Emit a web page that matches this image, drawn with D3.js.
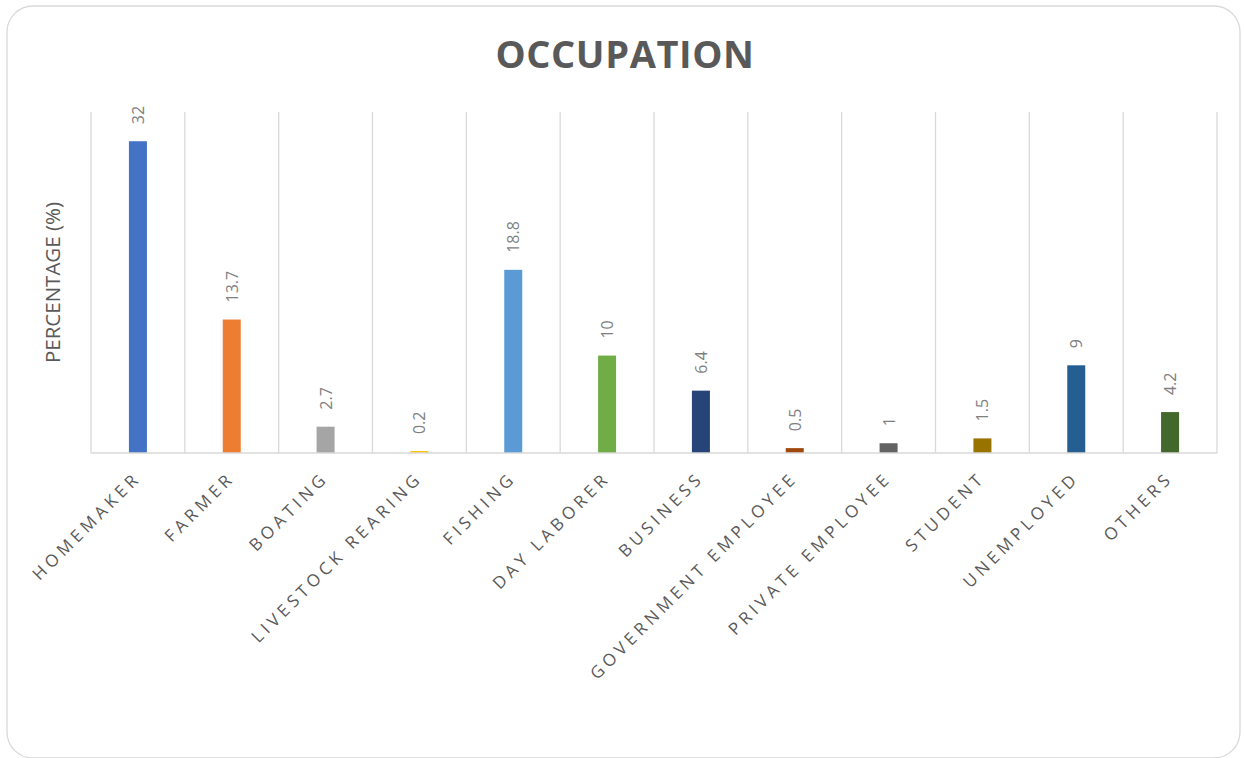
<!DOCTYPE html>
<html>
<head>
<meta charset="utf-8">
<script src="https://cdn.jsdelivr.net/npm/d3@7"></script>
<style>
body{margin:0;background:#fff;}
svg{display:block;font-family:"Open Sans",sans-serif;}
</style>
</head>
<body>
<svg id="chart" width="1244" height="758"></svg>
<script>
// data
var categories = ["HOMEMAKER","FARMER","BOATING","LIVESTOCK REARING","FISHING","DAY LABORER","BUSINESS","GOVERNMENT EMPLOYEE","PRIVATE EMPLOYEE","STUDENT","UNEMPLOYED","OTHERS"];
var values = [32, 13.7, 2.7, 0.2, 18.8, 10, 6.4, 0.5, 1, 1.5, 9, 4.2];
var colors = ["#4472C4","#ED7D31","#A5A5A5","#FFC000","#5B9BD5","#70AD47","#264478","#9E480E","#636363","#997300","#255E91","#43682B"];

var marge = {top:112,left:91,right:27,bottom:305};
var svg = d3.select("#chart");
var width = +svg.attr("width");
var height = +svg.attr("height");
var w = width - marge.left - marge.right;
var h = height - marge.top - marge.bottom;

// chart border
svg.append("rect")
   .attr("x",7).attr("y",6)
   .attr("width",1233).attr("height",752)
   .attr("rx",26).attr("ry",26)
   .attr("fill","#fff").attr("stroke","#d9d9d9").attr("stroke-width",1.3);

// title
svg.append("text")
   .attr("x",625).attr("y",68)
   .attr("text-anchor","middle")
   .attr("fill","#595959")
   .style("font-size","38px").style("font-weight","bold").style("letter-spacing","0.6px")
   .text("OCCUPATION");

var g = svg.append("g").attr("transform","translate("+marge.left+","+marge.top+")");

var x = d3.scaleBand().domain(categories).range([0,w]);
var y = d3.scaleLinear().domain([0,35]).range([h,0]);

// vertical gridlines between categories
var bounds = categories.map(function(c){return x(c);}).concat([w]);
g.selectAll(".grid").data(bounds).enter().append("line")
 .attr("class","grid")
 .attr("x1",function(d){return d;}).attr("x2",function(d){return d;})
 .attr("y1",0).attr("y2",h)
 .attr("stroke","#d9d9d9").attr("stroke-width",1.3);

// bars
var barW = 18;
g.selectAll(".bar").data(values).enter().append("rect")
 .attr("class","bar")
 .attr("x",function(d,i){return x(categories[i]) + x.bandwidth()/2 - barW/2;})
 .attr("y",function(d){return y(d);})
 .attr("width",barW)
 .attr("height",function(d){return h - y(d);})
 .attr("fill",function(d,i){return colors[i];});

// axis line
g.append("line")
 .attr("x1",0).attr("x2",w).attr("y1",h).attr("y2",h)
 .attr("stroke","#d9d9d9").attr("stroke-width",1.5);

// data labels, rotated
g.selectAll(".lbl").data(values).enter().append("text")
 .attr("class","lbl")
 .attr("transform",function(d,i){
    var cx = x(categories[i]) + x.bandwidth()/2 + 6;
    return "translate("+cx+","+(y(d)-17)+") rotate(-90)";
 })
 .attr("fill","#7f7f7f")
 .style("font-size","16px")
 .text(function(d){return d;});

// category labels
g.selectAll(".cat").data(categories).enter().append("text")
 .attr("class","cat")
 .attr("transform",function(d){
    var cx = x(d) + x.bandwidth()/2 + 4;
    return "translate("+cx+","+(h+26)+") rotate(-45)";
 })
 .attr("text-anchor","end")
 .attr("fill","#595959")
 .style("font-size","17px").style("letter-spacing","4.2px")
 .text(function(d){return d;});

// y title
svg.append("text")
   .attr("transform","translate(60,"+(marge.top+h/2)+") rotate(-90)")
   .attr("text-anchor","middle")
   .attr("fill","#595959")
   .style("font-size","20.5px")
   .text("PERCENTAGE (%)");
</script>
</body>
</html>
